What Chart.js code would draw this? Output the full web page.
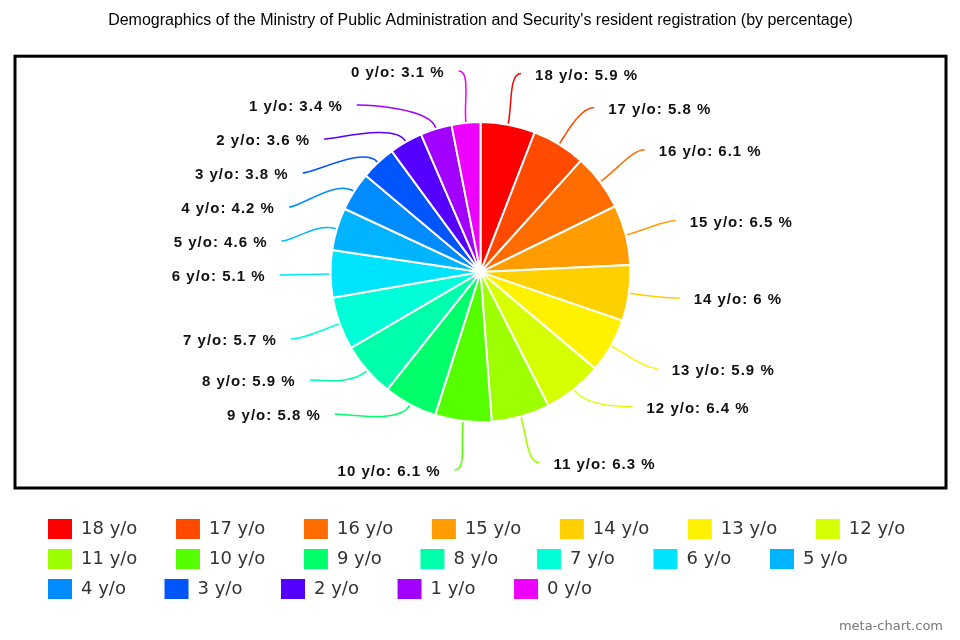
<!DOCTYPE html>
<html>
<head>
<meta charset="utf-8">
<script src="https://cdn.jsdelivr.net/npm/chart.js@4.4.1/dist/chart.umd.min.js"></script>
<style>
  html, body { margin: 0; padding: 0; background: #fff; }
</style>
</head>
<body>
<canvas id="chart" width="960" height="640"></canvas>
<script>
// ---------- Data ----------
const AGES = ["18 y/o", "17 y/o", "16 y/o", "15 y/o", "14 y/o", "13 y/o", "12 y/o",
  "11 y/o", "10 y/o", "9 y/o", "8 y/o", "7 y/o", "6 y/o", "5 y/o",
  "4 y/o", "3 y/o", "2 y/o", "1 y/o", "0 y/o"];
const SHARES = [5.9, 5.8, 6.1, 6.5, 6, 5.9, 6.4, 6.3, 6.1, 5.8, 5.9, 5.7, 5.1, 4.6, 4.2, 3.8, 3.6, 3.4, 3.1];
const COLORS = ["#FF0000", "#FF4A00", "#FF6D00", "#FF9C00", "#FFD000", "#FFF200", "#D5FF00",
  "#9EFF00", "#55FF00", "#00FF6A", "#00FFAA", "#00FFD8", "#00E3FF", "#00B4FF",
  "#008CFF", "#0055FF", "#5500FF", "#A100FF", "#EE00FF"];

const TITLE = "Demographics of the Ministry of Public Administration and Security's resident registration (by percentage)";

// ---------- Frame, legend offset, watermark ----------
const framePlugin = {
  id: 'frame',
  afterLayout(chart) {
    // legend rows start a bit inside the frame
    chart.legend.left += 23;
    chart.legend.right += 23;
  },
  beforeDraw(chart) {
    const {ctx, chartArea: a} = chart;
    ctx.save();
    ctx.strokeStyle = '#000';
    ctx.lineWidth = 3;
    ctx.strokeRect(a.left, a.top, a.right - a.left, a.bottom - a.top);
    ctx.restore();
  },
  afterDraw(chart) {
    const ctx = chart.ctx;
    ctx.save();
    ctx.font = '13px "DejaVu Sans", sans-serif';
    ctx.fillStyle = '#777';
    ctx.textAlign = 'right';
    ctx.textBaseline = 'middle';
    ctx.fillText('meta-chart.com', chart.width - 17, chart.height - 13);
    ctx.restore();
  }
};

// ---------- Outside labels with curved leader lines ----------
const outsideLabels = {
  id: 'outsideLabels',
  afterDatasetsDraw(chart) {
    const ctx = chart.ctx;
    const meta = chart.getDatasetMeta(0);
    const items = meta.data.map((arc, i) => {
      const p = arc.getProps(['x', 'y', 'startAngle', 'endAngle', 'outerRadius'], true);
      const mid = (p.startAngle + p.endAngle) / 2;
      const ideal = p.y + 200 * Math.sin(mid);
      return {i, p, mid, right: Math.cos(mid) >= 0, ideal, y: ideal};
    });

    // labels right under the pie need extra room for their leader lines
    const gapAbove = d => 34 + (Math.sin(d.mid) > 0.9 ? 22 : 0);
    const bottom = chart.chartArea.bottom - 16;
    [true, false].forEach(side => {
      const list = items.filter(d => d.right === side).sort((a, b) => a.y - b.y);
      for (let k = 1; k < list.length; k++) {
        list[k].y = Math.max(list[k].y, list[k - 1].y + 34);
      }
      if (list.length) {
        list[list.length - 1].y = Math.min(list[list.length - 1].y, bottom);
        for (let k = list.length - 2; k >= 0; k--) {
          list[k].y = Math.min(list[k].y, list[k + 1].y - gapAbove(list[k + 1]));
        }
      }
    });

    ctx.save();
    ctx.font = 'bold 15px "Liberation Sans", Arial, sans-serif';
    ctx.letterSpacing = '1px';
    ctx.textBaseline = 'middle';
    items.forEach(d => {
      const {x: cx, y: cy, outerRadius: r} = d.p;
      const dy = d.y - cy;
      const onCircle = Math.sqrt(Math.max(0, 215 * 215 - dy * dy));
      const byAngle = Math.abs(Math.cos(d.mid)) * 215 + 15;
      const dx = Math.abs(d.y - d.ideal) > 10 ? onCircle : Math.min(onCircle, byAngle);
      const s = d.right ? 1 : -1;
      const tx = cx + s * dx;
      const p1 = {x: cx + (r + 1) * Math.cos(d.mid), y: cy + (r + 1) * Math.sin(d.mid)};
      const p2 = {x: cx + (r + 22) * Math.cos(d.mid), y: cy + (r + 22) * Math.sin(d.mid)};
      const p3 = {x: tx - s * 14, y: d.y - 2};

      ctx.strokeStyle = COLORS[d.i];
      ctx.lineWidth = 1.5;
      ctx.beginPath();
      ctx.moveTo(p1.x, p1.y);
      ctx.bezierCurveTo(p2.x, p2.y, p3.x - s * 12, p3.y, p3.x, p3.y);
      ctx.stroke();

      ctx.fillStyle = '#111';
      ctx.textAlign = d.right ? 'left' : 'right';
      ctx.fillText(`${AGES[d.i]}: ${SHARES[d.i]} %`, tx, d.y);
    });
    ctx.restore();
  }
};

// ---------- Chart ----------
new Chart(document.getElementById('chart'), {
  type: 'pie',
  data: {
    labels: AGES,
    datasets: [{
      data: SHARES,
      backgroundColor: COLORS,
      borderColor: '#ffffff',
      borderWidth: 2,
      radius: 150
    }]
  },
  options: {
    responsive: false,
    animation: false,
    layout: {
      padding: {left: 15, right: 14, top: 0, bottom: 31}
    },
    plugins: {
      title: {
        display: true,
        text: TITLE,
        color: '#000',
        font: {family: '"Liberation Sans", Arial, sans-serif', size: 16, weight: 'normal'},
        padding: {top: 11, bottom: 26}
      },
      legend: {
        position: 'bottom',
        align: 'start',
        title: {
          display: true,
          text: '',
          font: {size: 10},
          padding: {top: 9, bottom: 0}
        },
        labels: {
          boxWidth: 24,
          boxHeight: 20,
          padding: 10,
          color: '#333',
          font: {family: '"DejaVu Sans", sans-serif', size: 18},
          generateLabels: chart =>
            Chart.overrides.pie.plugins.legend.labels.generateLabels(chart).map(l => ({
              ...l,
              text: l.text + '     ',
              lineWidth: 0,
              strokeStyle: l.fillStyle
            }))
        }
      },
      tooltip: {enabled: false}
    }
  },
  plugins: [framePlugin, outsideLabels]
});
</script>
</body>
</html>
